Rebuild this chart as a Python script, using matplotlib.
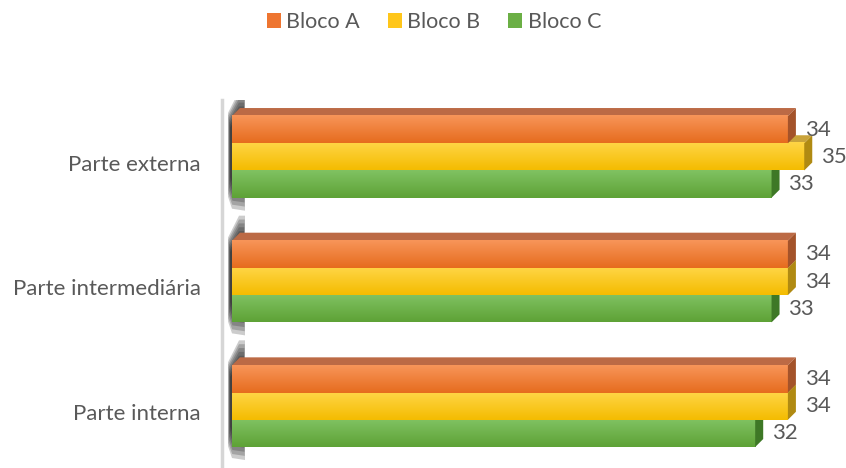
import numpy as np
import matplotlib.pyplot as plt
from matplotlib.patches import Polygon, Patch
from matplotlib.colors import LinearSegmentedColormap

plt.rcParams['font.family'] = ['Lato', 'DejaVu Sans']

categories = ["Parte externa", "Parte intermediária", "Parte interna"]
series = ["Bloco A", "Bloco B", "Bloco C"]
bloco_a = [34, 34, 34]
bloco_b = [35, 34, 34]
bloco_c = [33, 33, 32]

# front gradient (top, bottom), side face, top face
styles = {
    "Bloco A": ("#F89559", "#E66C1E", "#A4532A", "#BC6A45"),
    "Bloco B": ("#FFD546", "#F4BC00", "#B08A12", "#C9A33A"),
    "Bloco C": ("#80C262", "#5EA236", "#3E7826", "#5E8F45"),
}
legend_col = {"Bloco A": "#EE7530", "Bloco B": "#FFC61A", "Bloco C": "#6BAF45"}
text_col = "#595959"

W, H = 846, 468
fig = plt.figure(figsize=(W / 100, H / 100), dpi=100)
x0_px, unit_px = 232, 16.35
xmin, xmax = -0.8, 36
left_px = x0_px + xmin * unit_px
right_px = x0_px + xmax * unit_px
top_px, bot_px = 100, 466
ax = fig.add_axes([left_px / W, 1 - bot_px / H, (right_px - left_px) / W, (bot_px - top_px) / H])

gap = 125.0
ax.set_xlim(xmin, xmax)
ax.set_ylim(2 + (bot_px - 406) / gap, -(157 - top_px) / gap)
ax.axis("off")

bh = 27.3 / gap
dx = 8 / unit_px
dy = 8 / gap
ypos = np.arange(len(categories))
values = [bloco_a, bloco_b, bloco_c]
px = 1 / unit_px
py = 1 / gap

# axis line at the left wall
ax.plot([-10 * px] * 2, ax.get_ylim(), color="#D6D6D6", lw=2.5, clip_on=False, zorder=1)

# blurred shadow of each group on the wall (pixel offsets from the bar origin)
shadow = np.array([[7, -66], [13, -66], [13, 54], [0, 52], [-4, 40], [-4, -44]], dtype=float)
centre = np.array([6, -8])
for g in ypos:
    for s in np.linspace(1.0, 0.6, 7):
        pts = centre + (shadow - centre) * [s ** 0.5, s]
        ax.add_patch(Polygon(np.column_stack([pts[:, 0] * px, g + pts[:, 1] * py]),
                             closed=True, color="#1A1A1A", alpha=0.22, lw=0, zorder=2))

grad = np.linspace(0, 1, 64).reshape(-1, 1)
for i, name in reversed(list(enumerate(series))):
    ctop, cbot, cside, ctopface = styles[name]
    cmap = LinearSegmentedColormap.from_list(name, [ctop, cbot])
    offs = (i - 1) * bh
    z = 10 - i * 2
    bars = ax.barh(ypos + offs, values[i], height=bh, color="none", zorder=z)
    for b, v in zip(bars, values[i]):
        x, y, w, h = b.get_x(), b.get_y(), b.get_width(), b.get_height()
        ax.imshow(grad, cmap=cmap, aspect="auto", extent=[x, x + w, y + h, y],
                  interpolation="bicubic", zorder=z)
        # right side face
        ax.add_patch(Polygon([[x + w, y], [x + w + dx, y - dy], [x + w + dx, y + h - dy], [x + w, y + h]],
                             closed=True, color=cside, lw=0, zorder=z))
        # top face
        ax.add_patch(Polygon([[x, y], [x + dx, y - dy], [x + w + dx, y - dy], [x + w, y]],
                             closed=True, color=ctopface, lw=0, zorder=z - 0.5))
        ax.annotate(f"{v}", (x + w, y + h / 2), xytext=(12.2, 0), textcoords="offset points",
                    ha="left", va="center", fontsize=16, color=text_col, zorder=20)

for g, name in zip(ypos, categories):
    ax.text(-31 * px, g + 8 * py, name, ha="right", va="center", fontsize=16, color=text_col)

handles = [Patch(facecolor=legend_col[s], edgecolor="none") for s in series]
fig.legend(handles, series, loc="center", bbox_to_anchor=(434 / W, 1 - 22 / H), ncol=3, frameon=False,
           fontsize=15.5, labelcolor=text_col, handlelength=0.65, handleheight=0.65,
           handletextpad=0.25, columnspacing=1.3)

fig.savefig("out.png", dpi=100)
